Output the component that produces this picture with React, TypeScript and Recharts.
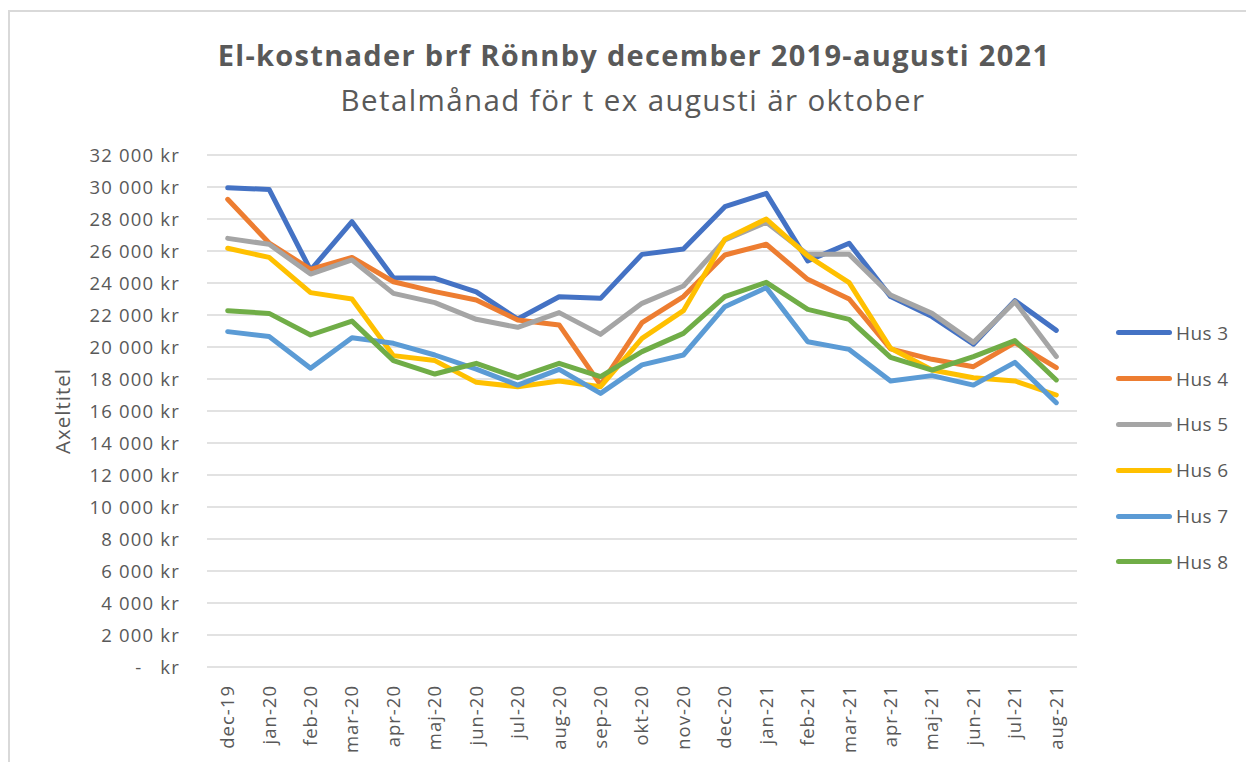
import React from "react";
import { LineChart, Line, XAxis, YAxis, CartesianGrid } from "recharts";

const months = [
  "dec-19", "jan-20", "feb-20", "mar-20", "apr-20", "maj-20", "jun-20", "jul-20",
  "aug-20", "sep-20", "okt-20", "nov-20", "dec-20", "jan-21", "feb-21", "mar-21",
  "apr-21", "maj-21", "jun-21", "jul-21", "aug-21",
];

const hus3 = [29950, 29850, 24800, 27830, 24330, 24290, 23450, 21750, 23140, 23040, 25790, 26120, 28770, 29600, 25380, 26480, 23150, 21900, 20170, 22900, 21040];
const hus4 = [29230, 26500, 24850, 25600, 24080, 23460, 22940, 21690, 21380, 17630, 21520, 23150, 25750, 26420, 24230, 23000, 19880, 19230, 18770, 20270, 18710];
const hus5 = [26790, 26420, 24560, 25440, 23350, 22770, 21730, 21230, 22150, 20790, 22730, 23810, 26690, 27800, 25790, 25790, 23250, 22100, 20290, 22830, 19400];
const hus6 = [26170, 25600, 23400, 23000, 19460, 19150, 17790, 17520, 17880, 17520, 20540, 22270, 26730, 28000, 25690, 24020, 19920, 18560, 18080, 17880, 17000];
const hus7 = [20960, 20650, 18670, 20580, 20230, 19500, 18620, 17620, 18600, 17100, 18880, 19500, 22520, 23710, 20330, 19850, 17880, 18210, 17620, 19040, 16520];
const hus8 = [22270, 22100, 20750, 21620, 19150, 18310, 18980, 18080, 18980, 18150, 19710, 20850, 23150, 24040, 22350, 21730, 19350, 18560, 19400, 20400, 17940];

const yTicks = [0, 2000, 4000, 6000, 8000, 10000, 12000, 14000, 16000, 18000, 20000, 22000, 24000, 26000, 28000, 30000, 32000];

const seriesNames = ["Hus 3", "Hus 4", "Hus 5", "Hus 6", "Hus 7", "Hus 8"];
const seriesValues = [hus3, hus4, hus5, hus6, hus7, hus8];
const colors = ["#4472C4", "#ED7D31", "#A5A5A5", "#FFC000", "#5B9BD5", "#70AD47"];

const data = months.map((m, i) => {
  const row: Record<string, string | number> = { month: m };
  seriesNames.forEach((n, s) => (row[n] = seriesValues[s][i]));
  return row;
});

const FONT = "'Open Sans', Lato, sans-serif";
const TEXT = "#595959";

const fmtKr = (v: number) => {
  if (v === 0) return "-\u00a0\u00a0\u00a0kr";
  return `${String(v).replace(/\B(?=(\d{3})+(?!\d))/g, " ")} kr`;
};

const MonthTick = (props: any) => {
  const { x, y, payload } = props;
  return (
    <text
      x={x}
      y={y}
      transform={`rotate(-90, ${x}, ${y})`}
      textAnchor="end"
      dy="0.35em"
      fill={TEXT}
      fontSize={18.5}
      fontFamily={FONT}
      style={{ letterSpacing: "1px" }}
    >
      {payload.value}
    </text>
  );
};

export default function App() {
  return (
    <div style={{ position: "absolute", left: 0, top: 0, width: 1246, height: 762, overflow: "hidden", background: "#fff" }}>
      <div style={{ position: "absolute", left: 8, top: 10, width: 1300, height: 800, borderLeft: "2px solid #d9d9d9", borderTop: "2px solid #d9d9d9" }} />
      <div style={{ position: "absolute", left: 0, width: 1268, top: 36, textAlign: "center", fontFamily: FONT, color: TEXT, fontSize: 29, fontWeight: 700, lineHeight: "38px", letterSpacing: "1.3px" }}>
        El-kostnader brf Rönnby december 2019-augusti 2021
      </div>
      <div style={{ position: "absolute", left: 0, width: 1266, top: 81, textAlign: "center", fontFamily: FONT, color: TEXT, fontSize: 29.5, lineHeight: "38px", letterSpacing: "1.4px" }}>
        Betalmånad för t ex augusti är oktober
      </div>
      <div style={{ position: "absolute", left: 62, top: 411, transform: "translate(-50%, -50%) rotate(-90deg)", fontFamily: FONT, color: TEXT, fontSize: 20.5, whiteSpace: "nowrap", letterSpacing: "1px" }}>
        Axeltitel
      </div>
      <div style={{ position: "absolute", left: 1116, top: 310, fontFamily: FONT }}>
        {seriesNames.map((n, i) => (
          <div key={n} style={{ display: "flex", alignItems: "center", height: 45.8 }}>
            <span style={{ display: "inline-block", width: 56, height: 5, borderRadius: 3, background: colors[i], marginRight: 4 }} />
            <span style={{ fontSize: 19, color: TEXT, letterSpacing: "0.4px" }}>{n}</span>
          </div>
        ))}
      </div>
      <div style={{ position: "absolute", left: 0, top: 0 }}>
        <LineChart width={1246} height={762} data={data} margin={{ top: 155, right: 169, bottom: 0, left: 80 }}>
          <CartesianGrid vertical={false} stroke="#d9d9d9" strokeWidth={1.5} />
          <XAxis
            dataKey="month"
            axisLine={false}
            tickLine={false}
            interval={0}
            padding={{ left: 20.7, right: 20.7 }}
            tick={<MonthTick />}
            tickMargin={12}
            height={95}
          />
          <YAxis
            width={127}
            domain={[0, 32000]}
            ticks={yTicks}
            interval={0}
            axisLine={false}
            tickLine={false}
            tickMargin={21}
            tickFormatter={fmtKr}
            tick={{ fill: TEXT, fontSize: 18.5, fontFamily: FONT, letterSpacing: "1.2px" } as any}
          />
          {seriesNames.map((n, i) => (
            <Line
              key={n}
              type="linear"
              dataKey={n}
              stroke={colors[i]}
              strokeWidth={5}
              dot={false}
              strokeLinejoin="round"
              strokeLinecap="round"
              isAnimationActive={false}
            />
          ))}
        </LineChart>
      </div>
    </div>
  );
}
